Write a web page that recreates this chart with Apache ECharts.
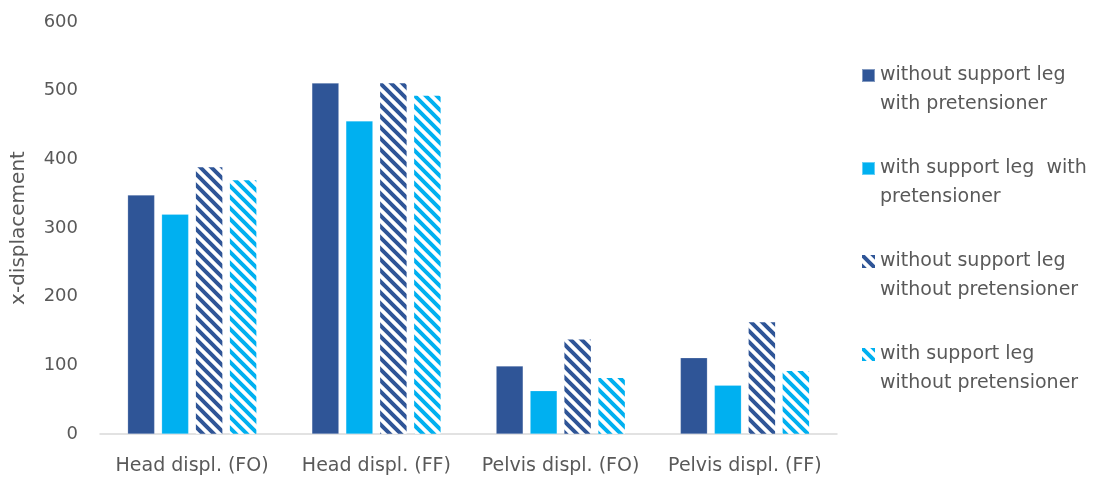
<!DOCTYPE html>
<html>
<head>
<meta charset="utf-8">
<script src="https://cdn.jsdelivr.net/npm/echarts@6/dist/echarts.min.js"></script>
<style>
  html, body { margin: 0; padding: 0; background: #fff; }
  #chart { width: 1096px; height: 478px; }
</style>
</head>
<body>
<div id="chart"></div>
<script>
const categories = ['Head displ. (FO)', 'Head displ. (FF)', 'Pelvis displ. (FO)', 'Pelvis displ. (FF)'];
const seriesNames = [
  'without support leg\nwith pretensioner',
  'with support leg  with\npretensioner',
  'without support leg\nwithout pretensioner',
  'with support leg\nwithout pretensioner'
];
const noLegWithPre = [348, 511, 99, 111];
const legWithPre = [320, 456, 63, 71];
const noLegNoPre = [389, 511, 138, 163];
const legNoPre = [370, 493, 82, 92];
const yTicks = [0, 100, 200, 300, 400, 500, 600];

const DARK = '#2F5597';
const LIGHT = '#00B0F0';
const TEXT = '#595959';
const FONT = 'DejaVu Sans';

// Diagonal "\" stripe tile used for the hatched bars
function stripes(color) {
  const s = 11;
  const c = document.createElement('canvas');
  c.width = s; c.height = s;
  const g = c.getContext('2d');
  g.fillStyle = '#fff';
  g.fillRect(0, 0, s, s);
  g.strokeStyle = color;
  g.lineWidth = 4;
  g.beginPath();
  for (let k = -1; k <= 1; k++) {
    g.moveTo(k * s - 2, -2);
    g.lineTo(k * s + s + 2, s + 2);
  }
  g.stroke();
  return { image: c, repeat: 'repeat' };
}

const chart = echarts.init(document.getElementById('chart'));
const fills = [DARK, LIGHT, stripes(DARK), stripes(LIGHT)];
const values = [noLegWithPre, legWithPre, noLegNoPre, legNoPre];

chart.setOption({
  animation: false,
  textStyle: { fontFamily: FONT },
  grid: { left: 100, right: 259, top: 22, bottom: 44 },
  legend: {
    orient: 'vertical',
    left: 856,
    top: 27,
    itemWidth: 13,
    itemHeight: 13,
    itemGap: 6,
    icon: 'rect',
    // leading blank line keeps the icon level with the first text line
    formatter: name => '\n' + name,
    textStyle: {
      fontSize: 19,
      color: TEXT,
      lineHeight: 29
    },
    data: seriesNames
  },
  xAxis: {
    type: 'category',
    data: categories,
    axisLine: { lineStyle: { color: '#D9D9D9', width: 1.5 } },
    axisTick: { show: false },
    axisLabel: { fontSize: 19, color: TEXT, margin: 23, interval: 0, hideOverlap: false }
  },
  yAxis: {
    type: 'value',
    min: yTicks[0],
    max: yTicks[yTicks.length - 1],
    interval: 100,
    name: 'x-displacement',
    nameLocation: 'middle',
    nameGap: 71,
    nameTextStyle: { fontSize: 20, color: TEXT },
    axisLine: { show: false },
    axisTick: { show: false },
    splitLine: { show: false },
    axisLabel: { fontSize: 18, color: TEXT, margin: 22 }
  },
  series: values.map((v, i) => ({
    name: seriesNames[i],
    type: 'bar',
    data: v,
    barGap: '26%',
    barCategoryGap: '30%',
    itemStyle: { color: fills[i], borderColor: i < 2 ? 'rgba(255,255,255,0.4)' : 'rgba(255,255,255,0)', borderWidth: 0.5 }
  }))
});
</script>
</body>
</html>
